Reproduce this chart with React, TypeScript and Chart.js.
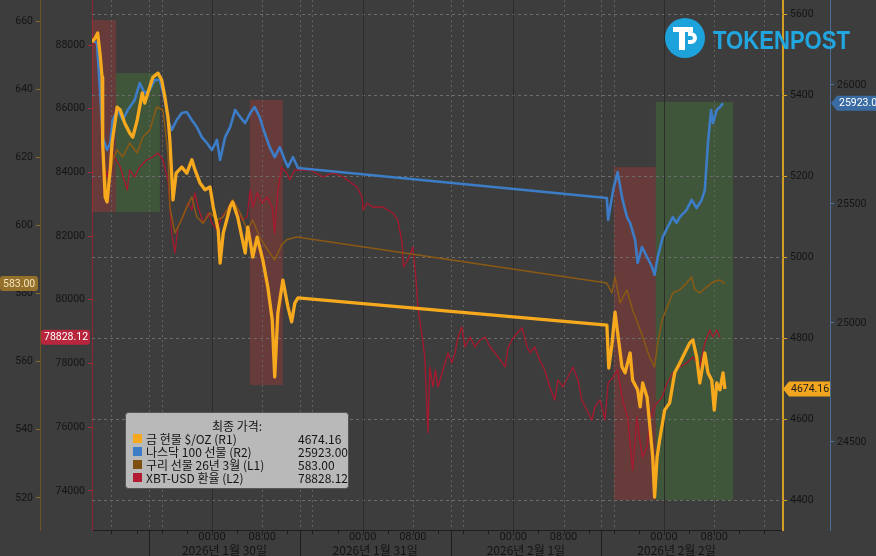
import React, { useEffect, useRef } from "react";
import { Chart, registerables } from "chart.js";

Chart.register(...registerables);

// ---------------- data (hours from 2026-01-30 00:00) ----------------
const goldHours = [-19.1,-18.6,-18.2,-17.8,-17.5,-17.4,-17.0,-16.7,-16.2,-15.9,-15.1,-14.6,-13.9,-13.1,-12.6,-11.9,-11.1,-10.7,-9.9,-9.4,-8.6,-8.0,-7.5,-7.0,-6.7,-6.2,-5.7,-4.8,-4.0,-3.2,-2.7,-1.9,-1.1,-0.3,0.2,1.0,1.3,1.8,2.9,3.3,4.1,5.3,5.7,6.5,7.2,8.1,8.9,9.6,10.0,10.5,11.3,12.1,12.7,13.2,13.7,
  62.9,63.2,63.7,64.2,64.6,65.3,65.8,66.6,67.0,67.8,68.2,68.6,69.3,69.7,70.2,70.5,70.9,71.3,72.1,72.9,73.7,74.5,75.3,76.1,76.6,77.2,77.7,78.5,79.0,79.6,80.0,80.4,80.9,81.4,81.7];
const goldPrices = [5531,5541,5553,5499,5444,5282,5148,5136,5215,5282,5370,5363,5331,5306,5296,5338,5405,5380,5420,5444,5454,5437,5395,5346,5289,5141,5207,5222,5207,5240,5215,5183,5166,5173,5124,5067,4985,5059,5124,5136,5099,5010,5074,5000,5049,4993,4926,4845,4704,4862,4943,4877,4840,4886,4899,
  4832,4726,4783,4864,4815,4729,4714,4763,4696,4672,4630,4689,4654,4590,4506,4407,4506,4548,4622,4640,4714,4738,4763,4788,4795,4753,4689,4763,4714,4696,4622,4689,4672,4714,4674.16];

const nasdaqHours = [-19.1,-18.3,-17.8,-17.4,-16.7,-16.2,-15.8,-15.0,-14.2,-13.4,-12.3,-11.5,-10.7,-9.9,-9.1,-8.3,-7.5,-7.0,-6.4,-5.6,-4.8,-4.0,-3.2,-2.4,-1.6,-0.8,0,0.8,1.3,2.1,2.9,3.7,4.5,5.3,6.1,6.8,7.6,8.4,9.2,10.0,10.8,11.6,12.1,12.9,13.7,
  62.9,63.1,63.9,64.6,65.4,66.1,66.6,67.4,67.8,68.5,69.3,70.1,70.5,71.0,71.8,72.6,73.4,74.0,74.5,75.6,76.4,77.2,78.0,78.5,79.0,79.5,79.8,80.4,80.9,81.4];
const nasdaqPrices = [26189,26176,25966,25781,25727,25756,25853,25895,25853,25895,25937,26008,25966,25979,26021,26021,25937,25853,25811,25853,25882,25886,25853,25823,25781,25756,25727,25769,25685,25781,25823,25895,25865,25840,25882,25907,25865,25798,25739,25697,25739,25685,25655,25697,25651,
  25525,25433,25559,25634,25517,25445,25420,25349,25252,25319,25277,25235,25202,25277,25361,25403,25445,25420,25445,25475,25517,25483,25517,25559,25756,25895,25840,25895,25907,25923];

const copperHours = [-19.1,-18.3,-17.8,-17.4,-16.7,-16.2,-15.8,-15.1,-14.2,-13.1,-11.9,-11.0,-9.9,-8.8,-7.8,-7.0,-6.7,-5.9,-5.1,-4.0,-3.2,-2.4,-1.4,-0.3,0.8,1.8,3.3,4.5,5.6,6.5,7.6,8.9,10.0,11.1,11.9,13.5,
  62.9,63.7,64.2,65.0,66.1,67.0,67.8,68.6,69.7,70.5,71.0,71.7,72.5,73.4,74.5,75.6,76.4,76.9,77.7,78.8,79.8,80.9,81.7];
const copperPrices = [653.9,653.6,639.8,622.2,609.6,614.8,619.2,622.2,620.1,624.2,621.3,626.0,628.0,634.8,633.9,621.3,605.4,597.8,600.7,605.4,608.4,602.5,600.7,603.7,601.6,602.5,607.5,603.7,598.7,601.6,596.6,592.8,589.9,594.3,595.8,596.6,
  583.1,580.2,584.9,577.3,581.1,575.2,571.4,567.3,561.4,558.5,565.5,572.3,576.1,580.2,581.1,583.1,584.9,581.1,580.2,582.0,583.4,584.0,583.0];

const xbtHours = [-19.1,-18.3,-17.8,-17.4,-16.7,-16.2,-15.8,-14.6,-13.5,-13.1,-12.3,-11.5,-10.4,-9.4,-8.6,-7.8,-7.0,-6.4,-5.9,-5.4,-4.6,-3.8,-3.2,-2.7,-2.2,-1.4,-0.6,0,0.8,1.6,2.4,3.2,4.0,4.8,5.6,6.1,6.5,7.2,8.0,8.8,9.6,10.0,10.5,11.1,11.9,12.4,13.2,
  15.6,17.7,19.3,20.9,23.1,23.9,24.1,24.7,25.6,27.2,28.8,29.6,30.3,30.5,31.2,32.0,32.5,32.8,33.4,33.9,34.4,34.7,35.2,35.6,36.0,36.8,37.6,38.2,38.7,39.2,39.8,40.3,41.1,41.9,42.7,43.5,44.3,45.1,45.9,46.7,47.2,47.8,48.6,49.4,50.2,50.7,51.4,52.2,53.0,53.8,54.6,55.1,55.9,56.7,57.5,58.3,58.9,59.7,60.5,61.0,61.8,62.6,
  63.1,63.9,64.6,65.4,66.2,67.0,67.7,68.2,68.6,69.3,69.7,70.2,70.9,71.7,72.5,73.4,74.5,75.6,76.6,77.7,78.5,79.3,79.8,80.4,80.9,81.4];
const xbtPrices = [88063,88000,86588,84391,83857,84234,84610,84171,83449,84077,83857,84171,84391,84485,84610,84391,83763,82099,81471,82288,82601,83041,82821,83355,82915,82413,82727,82413,82193,82601,82821,83135,82915,82507,82601,83449,82915,83355,83041,83229,82915,82099,83449,84171,83983,83763,84077,
  84077,83857,83983,83857,83543,83229,82821,83041,82915,82915,82727,82507,81785,81032,81252,81660,80624,79776,78960,78207,75827,77893,77265,77799,77265,77799,78332,78018,78332,78835,79149,78521,78835,78521,78741,78835,78521,78332,78113,77893,78521,78741,78960,79117,78521,78332,78521,78113,77799,77265,76857,77485,77265,77579,77893,77485,76857,76543,76229,76637,76857,
  76229,77391,77579,77799,76857,76324,74660,76324,75507,75068,75382,76135,76543,76763,76951,77391,77705,77893,78018,78207,77893,78647,79054,78835,79054,78828.12];

const seriesNames = ["금 현물 $/OZ (R1)", "나스닥 100 선물 (R2)", "구리 선물 26년 3월 (L1)", "XBT-USD 환율 (L2)"];
const lastLabels = ["4674.16", "25923.00", "583.00", "78828.12"];

const copperTicks = [520, 540, 560, 580, 600, 620, 640, 660];
const xbtTicks = [74000, 76000, 78000, 80000, 82000, 84000, 86000, 88000];
const goldTicks = [4400, 4600, 4800, 5000, 5200, 5400, 5600];
const nasdaqTicks = [24500, 25000, 25500, 26000];

const dayLabels = ["2026년 1월 30일", "2026년 1월 31일", "2026년 2월 1일", "2026년 2월 2일"];
const dayCenters = [2, 26, 50, 74];
const daySeparators = [-10, 14, 38, 62];

// highlighted zones (hours, and gold-axis values)
const zoneStart = [-19.1, -15.3, 6.05, 64.0, 70.7];
const zoneEnd = [-15.3, -8.3, 11.3, 70.7, 83.0];
const zoneTop = [5585, 5454, 5388, 5222, 5383];
const zoneBottom = [5111, 5111, 4684, 4400, 4400];
const zoneKind = ["down", "up", "down", "down", "up"];

// axis ranges
const X_MIN = -19.1, X_MAX = 90.95;
const COPPER_MIN = 510.6, COPPER_MAX = 666.2;
const XBT_MIN = 72775, XBT_MAX = 89413;
const GOLD_MIN = 4326, GOLD_MAX = 5634.6;
const NASDAQ_MIN = 24130, NASDAQ_MAX = 26357;

// ---------------- styles ----------------
const BG = "#3d3d3d";
const GOLD = "#f7a91d";
const BLUE = "#3d7cc6";
const COPPER = "#8a5a14";
const RED = "#a8182e";
const TEXT = "#141414";
const TICK_FONT = { family: "Roboto, 'DejaVu Sans', sans-serif", size: 10.5 };
const KR = "'Noto Sans CJK KR', 'Noto Sans', sans-serif";

function fixWidth(w: number) {
  return (s: any) => {
    s.width = w;
    s.paddingTop = 0;
    s.paddingBottom = 0;
  };
}

function pts(xs: number[], ys: number[]) {
  return xs.map((x, i) => ({ x, y: ys[i] }));
}

function rr(ctx: CanvasRenderingContext2D, x: number, y: number, w: number, h: number, r: number) {
  ctx.beginPath();
  ctx.moveTo(x + r, y);
  ctx.lineTo(x + w - r, y);
  ctx.quadraticCurveTo(x + w, y, x + w, y + r);
  ctx.lineTo(x + w, y + h - r);
  ctx.quadraticCurveTo(x + w, y + h, x + w - r, y + h);
  ctx.lineTo(x + r, y + h);
  ctx.quadraticCurveTo(x, y + h, x, y + h - r);
  ctx.lineTo(x, y + r);
  ctx.quadraticCurveTo(x, y, x + r, y);
  ctx.closePath();
}

function badge(ctx: CanvasRenderingContext2D, x1: number, x2: number, yc: number, bg: string, fg: string, text: string, arrow: boolean) {
  const h = 15;
  const top = yc - h / 2;
  ctx.fillStyle = bg;
  if (arrow) {
    ctx.beginPath();
    ctx.moveTo(x1, yc);
    ctx.lineTo(x1 + 6, top);
    ctx.lineTo(x2, top);
    ctx.lineTo(x2, top + h);
    ctx.lineTo(x1 + 6, top + h);
    ctx.closePath();
  } else {
    rr(ctx, x1, top, x2 - x1, h, 3);
  }
  ctx.fill();
  ctx.fillStyle = fg;
  ctx.font = "10.5px Roboto, 'DejaVu Sans', sans-serif";
  ctx.textBaseline = "middle";
  ctx.textAlign = "left";
  ctx.fillText(text, x1 + (arrow ? 8 : 3), yc + 0.5);
}

const decor = {
  id: "decor",
  beforeDraw(chart: any) {
    const { ctx, width, height } = chart;
    ctx.save();
    ctx.fillStyle = BG;
    ctx.fillRect(0, 0, width, height);
    ctx.restore();
  },
  beforeDatasetsDraw(chart: any) {
    const { ctx, chartArea: a, scales } = chart;
    const x = scales.x, g = scales.yGold;
    ctx.save();
    zoneStart.forEach((s, i) => {
      const x1 = x.getPixelForValue(s), x2 = x.getPixelForValue(zoneEnd[i]);
      const y1 = g.getPixelForValue(zoneTop[i]), y2 = g.getPixelForValue(zoneBottom[i]);
      ctx.fillStyle = zoneKind[i] === "up" ? "rgba(72,140,56,0.33)" : "rgba(180,56,56,0.36)";
      ctx.fillRect(x1, y1, x2 - x1, y2 - y1);
    });
    ctx.lineWidth = 1;
    ctx.setLineDash([3, 3]);
    ctx.strokeStyle = "#6c6c6c";
    goldTicks.forEach((v) => {
      const y = Math.round(g.getPixelForValue(v)) + 0.5;
      ctx.beginPath();
      ctx.moveTo(a.left, y);
      ctx.lineTo(a.right, y);
      ctx.stroke();
    });
    for (let h = -16; h <= 88; h += 8) {
      const px = Math.round(x.getPixelForValue(h)) + 0.5;
      const midnight = ((h % 24) + 24) % 24 === 0;
      ctx.setLineDash(midnight ? [] : [2, 3]);
      ctx.strokeStyle = midnight ? "#2c2c2c" : "#626262";
      ctx.beginPath();
      ctx.moveTo(px, a.top);
      ctx.lineTo(px, a.bottom);
      ctx.stroke();
    }
    ctx.setLineDash([2, 3]);
    ctx.strokeStyle = "#626262";
    daySeparators.forEach((h) => {
      const px = Math.round(x.getPixelForValue(h)) + 0.5;
      ctx.beginPath();
      ctx.moveTo(px, a.top);
      ctx.lineTo(px, a.bottom);
      ctx.stroke();
    });
    ctx.restore();
  },
  afterDraw(chart: any) {
    const { ctx, chartArea: a, scales } = chart;
    const x = scales.x;
    ctx.save();
    ctx.strokeStyle = "#1e1e1e";
    ctx.lineWidth = 1;
    for (let h = -16; h <= 88; h += 4) {
      const px = Math.round(x.getPixelForValue(h)) + 0.5;
      ctx.beginPath();
      ctx.moveTo(px, a.bottom);
      ctx.lineTo(px, a.bottom + 4);
      ctx.stroke();
    }
    daySeparators.forEach((h) => {
      const px = Math.round(x.getPixelForValue(h)) + 0.5;
      ctx.beginPath();
      ctx.moveTo(px, a.bottom);
      ctx.lineTo(px, chart.height);
      ctx.stroke();
    });
    ctx.fillStyle = TEXT;
    ctx.textAlign = "center";
    ctx.textBaseline = "middle";
    ctx.font = "11px Roboto, 'DejaVu Sans', sans-serif";
    for (let h = 0; h <= 88; h += 8) {
      const m = h % 24;
      if (m === 0 || m === 8) {
        ctx.fillText(m === 0 ? "00:00" : "08:00", x.getPixelForValue(h), a.bottom + 7);
      }
    }
    ctx.font = "12px " + KR;
    dayLabels.forEach((t, i) => ctx.fillText(t, x.getPixelForValue(dayCenters[i]), a.bottom + 20));

    const last = (arr: number[]) => arr[arr.length - 1];
    const yc = scales.yCopper.getPixelForValue(last(copperPrices));
    badge(ctx, 0, 38, yc, "#94702a", "#f4e4bf", lastLabels[2], false);
    const yx = scales.yXbt.getPixelForValue(last(xbtPrices));
    badge(ctx, 41, 90, yx, "#b7263c", "#ffffff", lastLabels[3], false);
    const yg = scales.yGold.getPixelForValue(last(goldPrices));
    badge(ctx, scales.yGold.left, scales.yGold.right, yg, "#f2a61f", "#1c1c1c", lastLabels[0], true);
    const yn = scales.yNasdaq.getPixelForValue(last(nasdaqPrices));
    badge(ctx, scales.yNasdaq.left + 1, scales.yNasdaq.right + 6, yn, "#3a6ca3", "#ffffff", lastLabels[1], true);

    const lx = 125.5, ly = 412.5, lw = 223, lh = 76;
    rr(ctx, lx, ly, lw, lh, 3);
    ctx.fillStyle = "#b9b9b9";
    ctx.fill();
    ctx.strokeStyle = "#555555";
    ctx.stroke();
    ctx.fillStyle = TEXT;
    ctx.font = "12px " + KR;
    ctx.textAlign = "center";
    ctx.fillText("최종 가격:", 237, 426);
    const swatches = [GOLD, BLUE, "#7d4f10", "#b31a33"];
    seriesNames.forEach((n, i) => {
      const y = 439 + i * 13;
      ctx.fillStyle = swatches[i];
      ctx.fillRect(133, y - 5, 9, 9);
      ctx.fillStyle = TEXT;
      ctx.textAlign = "left";
      ctx.font = "12px " + KR;
      ctx.fillText(n, 146, y);
      ctx.fillText(lastLabels[i], 298, y);
    });

    ctx.fillStyle = "#1ea2dc";
    ctx.beginPath();
    ctx.arc(685, 38, 20, 0, Math.PI * 2);
    ctx.fill();
    ctx.fillStyle = "#ffffff";
    ctx.fillRect(673, 27, 20, 5);
    ctx.fillRect(679, 27, 6, 23);
    ctx.beginPath();
    ctx.moveTo(688, 32);
    ctx.lineTo(691, 32);
    ctx.arc(691, 38, 6, -Math.PI / 2, Math.PI / 2);
    ctx.lineTo(688, 44);
    ctx.lineTo(688, 40);
    ctx.lineTo(691, 40);
    ctx.arc(691, 38, 2, Math.PI / 2, -Math.PI / 2, true);
    ctx.lineTo(688, 36);
    ctx.closePath();
    ctx.fill();
    ctx.font = "bold 25px 'Liberation Sans', Arial, sans-serif";
    const tw = ctx.measureText("TOKENPOST").width;
    ctx.save();
    ctx.translate(713, 49);
    ctx.scale(137 / tw, 1);
    ctx.fillStyle = "#22a6e0";
    ctx.textAlign = "left";
    ctx.textBaseline = "alphabetic";
    ctx.fillText("TOKENPOST", 0, 0);
    ctx.restore();
    ctx.restore();
  },
};

function yAxis(pos: string, weight: number, min: number, max: number, ticks: number[], lineColor: string, tickColor: string, width: number) {
  return {
    type: "linear",
    position: pos,
    weight,
    min,
    max,
    afterBuildTicks: (s: any) => {
      s.ticks = ticks.map((v) => ({ value: v }));
    },
    ticks: { color: TEXT, font: TICK_FONT, padding: 3, callback: (v: any) => String(v) },
    grid: { display: true, drawOnChartArea: false, tickLength: 4, color: tickColor, lineWidth: 1 },
    border: { display: true, color: lineColor, width: pos === "right" && weight === 1 ? 2 : 1 },
    afterFit: fixWidth(width),
  };
}

export default function App() {
  const ref = useRef<HTMLCanvasElement | null>(null);
  useEffect(() => {
    if (!ref.current) return;
    const chart = new Chart(ref.current, {
      type: "line",
      data: {
        datasets: [
          { label: seriesNames[0], data: pts(goldHours, goldPrices), yAxisID: "yGold", borderColor: GOLD, borderWidth: 3.3, order: 1 },
          { label: seriesNames[1], data: pts(nasdaqHours, nasdaqPrices), yAxisID: "yNasdaq", borderColor: BLUE, borderWidth: 2.6, order: 2 },
          { label: seriesNames[2], data: pts(copperHours, copperPrices), yAxisID: "yCopper", borderColor: COPPER, borderWidth: 1.5, order: 3 },
          { label: seriesNames[3], data: pts(xbtHours, xbtPrices), yAxisID: "yXbt", borderColor: RED, borderWidth: 1.3, order: 4 },
        ].map((d) => ({ ...d, pointRadius: 0, tension: 0, fill: false, borderJoinStyle: "round" as const })),
      },
      options: {
        animation: false,
        responsive: true,
        maintainAspectRatio: false,
        events: [],
        layout: { padding: 0 },
        plugins: { legend: { display: false }, tooltip: { enabled: false } },
        scales: {
          x: {
            type: "linear",
            position: "bottom",
            min: X_MIN,
            max: X_MAX,
            grid: { display: false },
            ticks: { display: false },
            border: { display: true, color: "#1e1e1e", width: 1 },
            afterFit: (s: any) => {
              s.height = 26;
              s.paddingLeft = 0;
              s.paddingRight = 0;
            },
          },
          yCopper: yAxis("left", 2, COPPER_MIN, COPPER_MAX, copperTicks, "#6b5524", "#8a6d2a", 40),
          yXbt: yAxis("left", 1, XBT_MIN, XBT_MAX, xbtTicks, "#8e2434", "#a52a3c", 52),
          yGold: yAxis("right", 1, GOLD_MIN, GOLD_MAX, goldTicks, "#d49e22", "#e0a626", 47),
          yNasdaq: yAxis("right", 2, NASDAQ_MIN, NASDAQ_MAX, nasdaqTicks, "#4a6d92", "#4f78a4", 46),
        } as any,
      },
      plugins: [decor],
    });
    return () => chart.destroy();
  }, []);
  return (
    <div style={{ position: "fixed", left: 0, top: 0, width: 876, height: 556, background: BG }}>
      <canvas ref={ref} />
    </div>
  );
}
